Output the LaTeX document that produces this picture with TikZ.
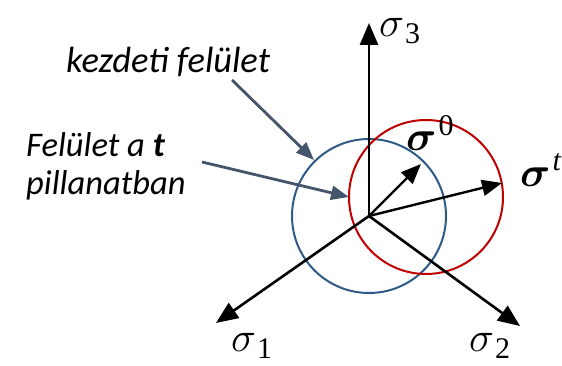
\RequirePackage{fix-cm}
\documentclass[tikz,border=0pt]{standalone}
\usepackage{amsmath}
\usepackage{bm}
\usepackage{fontspec}
\setmainfont{Carlito}
\newfontfamily\digfont{Liberation Serif}
\usetikzlibrary{arrows.meta}
\newcommand\sigsub[1]{$\sigma$\kern1pt\raisebox{-7pt}{\digfont\fontsize{30}{30}\selectfont #1}}
\newcommand\sigsup[1]{$\bm{\sigma}$\kern2pt\raisebox{15pt}{\digfont\fontsize{30}{30}\selectfont #1}}
\definecolor{circblue}{HTML}{2E5A88}
\definecolor{circred}{HTML}{C00000}
\definecolor{pointer}{HTML}{44546A}
\tikzset{
  axis/.style={line width=2.6pt, -{Triangle[length=22pt,width=18pt]}},
  vec/.style={line width=2.4pt, -{Triangle[length=20pt,width=16pt]}},
  ptr/.style={pointer, line width=2.8pt, -{Triangle[length=18pt,width=14pt]}},
  lbl/.style={font=\fontsize{34.5}{38}\selectfont\itshape, inner sep=0pt},
  mlbl/.style={font=\fontsize{42}{46}\selectfont, inner sep=0pt},
}
\begin{document}
\begin{tikzpicture}[x=1pt,y=-1pt]
\useasboundingbox (0,0) rectangle (562,366);
\coordinate (O) at (369,216);
\coordinate (blueC) at (369,216);
\coordinate (redC) at (426,197);
% circles
\draw[circblue, line width=2pt] (blueC) circle[radius=77];
\draw[circred, line width=2pt] (redC) circle[radius=77];
% axes
\coordinate (e3) at (369,23);
\coordinate (e1) at (216,323);
\coordinate (e2) at (520,326);
\draw[axis] (O) -- (e3);
\draw[axis] (O) -- (e1);
\draw[axis] (O) -- (e2);
% vectors
\coordinate (s0) at (421,164);
\coordinate (st) at (502,183);
\draw[vec] (O) -- (s0);
\draw[vec] (O) -- (st);
% math labels
\node[mlbl, anchor=base west] (l3) at (379,37) {\sigsub{3}};
\node[mlbl, anchor=base west] (l1) at (231,351) {\sigsub{1}};
\node[mlbl, anchor=base west] (l2) at (469,351) {\sigsub{2}};
\node[mlbl, anchor=base west] (l0) at (406,151) {\sigsup{0}};
\node[mlbl, anchor=base west] (lt) at (520,186) {\sigsup{\itshape t}};
% text labels
\node[lbl, font=\fontsize{36.5}{40}\selectfont\itshape, anchor=base west] (kez) at (66,73) {kezdeti felület};
\node[lbl, anchor=base west, align=left] (fel) at (26,195) {Felület a \textbf{t}\\pillanatban};
% pointers
\coordinate (kp) at (232,80);
\coordinate (kt) at (314,160);
\coordinate (fp) at (202,162);
\coordinate (ft) at (349,197);
\draw[ptr] (kp) -- (kt);
\draw[ptr] (fp) -- (ft);
\end{tikzpicture}
\end{document}
